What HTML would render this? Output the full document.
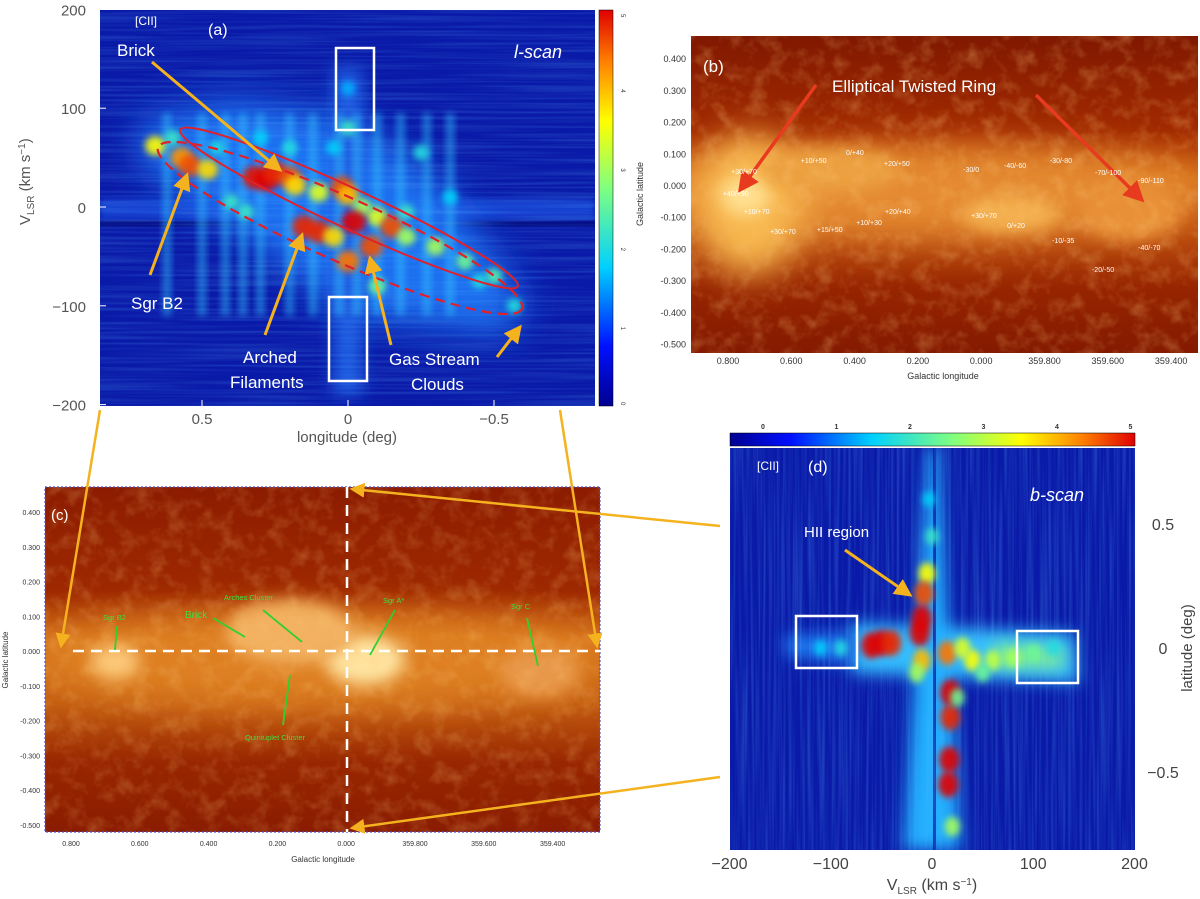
<!DOCTYPE html>
<html><head><meta charset="utf-8">
<style>
body{margin:0;background:#fff;width:1200px;height:899px;overflow:hidden;font-family:"Liberation Sans",sans-serif}
svg{position:absolute;left:0;top:0}
</style></head>
<body>
<svg id="fig" width="1200" height="899" viewBox="0 0 1200 899">
<defs>
<filter id="bl" x="-50%" y="-50%" width="200%" height="200%"><feGaussianBlur stdDeviation="3.5"/></filter>
<filter id="bl2" x="-50%" y="-50%" width="200%" height="200%"><feGaussianBlur stdDeviation="8"/></filter>
<filter id="bl3" x="-50%" y="-50%" width="200%" height="200%"><feGaussianBlur stdDeviation="18"/></filter>
<filter id="tH" x="0" y="0" width="100%" height="100%"><feTurbulence type="fractalNoise" baseFrequency="0.006 0.35" numOctaves="2" seed="3"/><feColorMatrix type="matrix" values="0 0 0 0 0.1  0 0 0 0 0.45  0 0 0 0 1  1.6 0 0 0 -0.62"/></filter>
<filter id="tV" x="0" y="0" width="100%" height="100%"><feTurbulence type="fractalNoise" baseFrequency="0.35 0.006" numOctaves="2" seed="5"/><feColorMatrix type="matrix" values="0 0 0 0 0.1  0 0 0 0 0.45  0 0 0 0 1  1.6 0 0 0 -0.62"/></filter>
<filter id="tO" x="0" y="0" width="100%" height="100%"><feTurbulence type="fractalNoise" baseFrequency="0.06" numOctaves="3" seed="7"/><feColorMatrix type="matrix" values="0 0 0 0 1  0 0 0 0 0.6  0 0 0 0 0.2  1.8 0 0 0 -0.8"/></filter>
<linearGradient id="jetv" x1="0" y1="1" x2="0" y2="0">
<stop offset="0" stop-color="#00008f"/><stop offset="0.15" stop-color="#0010ff"/><stop offset="0.35" stop-color="#00d0ff"/><stop offset="0.55" stop-color="#80ff80"/><stop offset="0.72" stop-color="#ffff00"/><stop offset="0.87" stop-color="#ff8000"/><stop offset="1" stop-color="#e00000"/></linearGradient>
<linearGradient id="jeth" x1="0" y1="0" x2="1" y2="0">
<stop offset="0" stop-color="#00008f"/><stop offset="0.15" stop-color="#0010ff"/><stop offset="0.35" stop-color="#00d0ff"/><stop offset="0.55" stop-color="#80ff80"/><stop offset="0.72" stop-color="#ffff00"/><stop offset="0.87" stop-color="#ff8000"/><stop offset="1" stop-color="#e00000"/></linearGradient>
<linearGradient id="galb" x1="0" y1="0" x2="0" y2="1">
<stop offset="0" stop-color="#801800"/><stop offset="0.3" stop-color="#a22a00"/><stop offset="0.45" stop-color="#d46a14"/><stop offset="0.6" stop-color="#c05210"/><stop offset="0.8" stop-color="#962400"/><stop offset="1" stop-color="#841a00"/></linearGradient>
<linearGradient id="galc" x1="0" y1="0" x2="0" y2="1">
<stop offset="0" stop-color="#8c1c00"/><stop offset="0.3" stop-color="#9e2800"/><stop offset="0.45" stop-color="#d6741a"/><stop offset="0.62" stop-color="#c45e12"/><stop offset="0.8" stop-color="#982600"/><stop offset="1" stop-color="#8a1c00"/></linearGradient>
<marker id="ay" markerWidth="6" markerHeight="6" refX="5" refY="3" orient="auto"><path d="M0,0 L6,3 L0,6 Z" fill="#f5b21f"/></marker>
<marker id="ar" markerWidth="6" markerHeight="6" refX="5" refY="3" orient="auto"><path d="M0,0 L6,3 L0,6 Z" fill="#e83a1e"/></marker>
<clipPath id="ca"><rect x="100" y="10" width="495" height="396"/></clipPath>
<clipPath id="cd"><rect x="730" y="448" width="405" height="402"/></clipPath>
<clipPath id="cb"><rect x="691" y="36" width="507" height="317"/></clipPath>
<clipPath id="cc"><rect x="45" y="487" width="555" height="345"/></clipPath>
</defs>

<!-- Panel a -->
<g>
<rect x="100" y="10" width="495" height="396" fill="#0a1aa8"/>
<g id="aStripes" clip-path="url(#ca)"></g>
<rect x="100" y="10" width="495" height="396" filter="url(#tH)" opacity="0.3"/>
<g id="aMarks" clip-path="url(#ca)"></g>
<rect x="599" y="10" width="14" height="396" fill="url(#jetv)" stroke="#000" stroke-width="0.5"/>
<g id="aAxes"></g>
<text x="135" y="25" fill="#fff" font-size="12">[CII]</text>
<text x="208" y="35" fill="#fff" font-size="16">(a)</text>
<text x="117" y="56" fill="#fff" font-size="17">Brick</text>
<text x="514" y="58" fill="#fff" font-size="18" font-style="italic">l-scan</text>
<text x="131" y="309" fill="#fff" font-size="17">Sgr B2</text>
<text x="243" y="363" fill="#fff" font-size="17">Arched</text>
<text x="230" y="388" fill="#fff" font-size="17">Filaments</text>
<text x="389" y="365" fill="#fff" font-size="17">Gas Stream</text>
<text x="411" y="390" fill="#fff" font-size="17">Clouds</text>
<rect x="336" y="48" width="38" height="82" fill="none" stroke="#fff" stroke-width="2.5"/>
<rect x="329" y="297" width="38" height="84" fill="none" stroke="#fff" stroke-width="2.5"/>
<ellipse cx="349" cy="208" rx="186" ry="20" transform="rotate(24.9 349 208)" fill="none" stroke="#e0202a" stroke-width="2"/>
<ellipse cx="340" cy="228" rx="199" ry="32" transform="rotate(24 340 228)" fill="none" stroke="#e0202a" stroke-width="2.2" stroke-dasharray="10,6"/>
<g stroke="#f5b21f" stroke-width="3" fill="none" marker-end="url(#ay)">
<line x1="152" y1="62" x2="280" y2="170"/>
<line x1="150" y1="275" x2="187" y2="175"/>
<line x1="265" y1="335" x2="302" y2="235"/>
<line x1="391" y1="345" x2="370" y2="258"/>
<line x1="497" y1="357" x2="520" y2="327"/>
</g>
<text x="15" y="210" fill="#555" font-size="15" transform="rotate(-90 30 210)">V<tspan font-size="10" dy="4">LSR</tspan><tspan dy="-4"> (km s</tspan><tspan font-size="10" dy="-5">−1</tspan><tspan dy="5">)</tspan></text>
<text x="347" y="442" fill="#555" font-size="15" text-anchor="middle">longitude (deg)</text>
</g>

<!-- Panel b -->
<g>
<rect x="691" y="36" width="507" height="317" fill="url(#galb)"/>
<g id="bMarks" clip-path="url(#cb)"></g>
<rect x="691" y="36" width="507" height="317" filter="url(#tO)" opacity="0.35"/>
<g id="bAxes"></g>
<text x="703" y="72" fill="#fff" font-size="17">(b)</text>
<text x="832" y="92" fill="#fff" font-size="17">Elliptical Twisted Ring</text>
<g stroke="#e83a1e" stroke-width="3.5" marker-end="url(#ar)">
<line x1="816" y1="85" x2="740" y2="190"/>
<line x1="1036" y1="95" x2="1142" y2="200"/>
</g>
<g id="bVel" fill="#fff" font-size="7"></g>
<text x="943" y="379" fill="#333" font-size="9" text-anchor="middle">Galactic longitude</text>
<text x="643" y="194" fill="#333" font-size="9" text-anchor="middle" transform="rotate(-90 643 194)">Galactic latitude</text>
</g>

<!-- Panel c -->
<g>
<rect x="45" y="487" width="555" height="345" fill="url(#galc)"/>
<g id="cMarks" clip-path="url(#cc)"></g>
<rect x="45" y="487" width="555" height="345" filter="url(#tO)" opacity="0.3"/>
<rect x="45" y="487" width="555" height="345" fill="none" stroke="#5050d0" stroke-width="1.2" stroke-dasharray="2,2"/>
<g id="cAxes"></g>
<line x1="73" y1="651" x2="600" y2="651" stroke="#fff" stroke-width="2.5" stroke-dasharray="11,7"/>
<line x1="347" y1="487" x2="347" y2="832" stroke="#fff" stroke-width="2.5" stroke-dasharray="11,7"/>
<text x="51" y="520" fill="#fff" font-size="15">(c)</text>
<g fill="#40e040" font-size="7.5">
<text x="103" y="620">Sgr B2</text>
<text x="185" y="618" font-size="10">Brick</text>
<text x="224" y="600">Arches Cluster</text>
<text x="383" y="603">Sgr A*</text>
<text x="511" y="609">Sgr C</text>
<text x="245" y="740">Quintuplet Cluster</text>
</g>
<g stroke="#30d030" stroke-width="1.8">
<line x1="117" y1="626" x2="115" y2="650"/><line x1="263" y1="610" x2="302" y2="642"/><line x1="213" y1="618" x2="245" y2="637"/>
<line x1="395" y1="610" x2="370" y2="655"/><line x1="527" y1="618" x2="538" y2="666"/><line x1="283" y1="725" x2="290" y2="675"/>
</g>
<text x="323" y="862" fill="#333" font-size="8" text-anchor="middle">Galactic longitude</text>
<text x="8" y="660" fill="#333" font-size="8" text-anchor="middle" transform="rotate(-90 8 660)">Galactic latitude</text>
</g>

<!-- Panel d -->
<g>
<rect x="730" y="448" width="405" height="402" fill="#0a1aa8"/>
<g id="dStripes" clip-path="url(#cd)"></g>
<rect x="730" y="448" width="405" height="402" filter="url(#tV)" opacity="0.35"/>
<g id="dMarks" clip-path="url(#cd)"></g>
<rect x="730" y="433" width="405" height="13" fill="url(#jeth)" stroke="#000" stroke-width="0.5"/>
<g id="dAxes"></g>
<text x="757" y="470" fill="#fff" font-size="12">[CII]</text>
<text x="808" y="472" fill="#fff" font-size="16">(d)</text>
<text x="1030" y="501" fill="#fff" font-size="18" font-style="italic">b-scan</text>
<text x="804" y="537" fill="#fff" font-size="15">HII region</text>
<line x1="845" y1="550" x2="910" y2="595" stroke="#f5b21f" stroke-width="3" marker-end="url(#ay)"/>
<rect x="796" y="616" width="61" height="52" fill="none" stroke="#fff" stroke-width="2.5"/>
<rect x="1017" y="631" width="61" height="52" fill="none" stroke="#fff" stroke-width="2.5"/>
<text x="932" y="890" fill="#444" font-size="16" text-anchor="middle">V<tspan font-size="10" dy="4">LSR</tspan><tspan dy="-4"> (km s</tspan><tspan font-size="10" dy="-5">−1</tspan><tspan dy="5">)</tspan></text>
<text x="1192" y="648" fill="#444" font-size="15" text-anchor="middle" transform="rotate(-90 1192 648)">latitude (deg)</text>
</g>

<!-- connecting arrows -->
<g stroke="#f5b21f" stroke-width="2.5" marker-end="url(#ay)">
<line x1="100" y1="410" x2="61" y2="646"/>
<line x1="560" y1="410" x2="597" y2="646"/>
<line x1="720" y1="526" x2="352" y2="489"/>
<line x1="720" y1="777" x2="352" y2="828"/>
</g>
</svg>
<script>
// ---------- data ----------
const aYTicks=[200,100,0,-100,-200];
const aXTicks=[0.5,0,-0.5];
const aXTickLabels=["0.5","0","−0.5"];
const aCbTicks=[0,1,2,3,4,5];
// panel (a) emission clumps: longitude (deg), velocity (km/s), intensity (K)
const aL=[0.66,0.57,0.54,0.48,0.32,0.28,0.25,0.20,0.18,0.10,0.02,0.00,-0.05,-0.10,-0.15,-0.20,0.15,0.10,0.05,-0.02,-0.08,0.00,-0.30,-0.40,-0.50,-0.57,0.40,0.35,0.00,-0.25,0.20,0.60,-0.10,0.05,0.00,-0.35,0.45,0.30,-0.20,-0.45];
const aV=[62,50,42,38,30,28,35,30,22,15,20,12,0,-10,-20,-30,-20,-25,-30,-15,-40,-55,-40,-55,-70,-100,5,-5,80,55,60,70,-80,60,120,10,60,70,-5,-75];
const aI=[3.6,4.2,4.6,3.8,4.9,5,4.8,4.6,3.8,3.4,4.6,4,3,3.4,4.6,3,4.8,4.8,3.8,5,4.6,4.4,3,2.6,2.4,2,2.2,2.2,2.2,2,2,2.2,2.6,1.8,1.6,1.8,2,1.8,2.2,2];
// longitudes of faint vertical streaks
const aStreakL=[0.62,0.5,0.42,0.36,0.3,0.2,0.12,0.03,-0.03,-0.1,-0.18,-0.27,-0.35];
const bXLabels=["0.800","0.600","0.400","0.200","0.000","359.800","359.600","359.400"];
const bYTicks=[0.4,0.3,0.2,0.1,0,-0.1,-0.2,-0.3,-0.4,-0.5];
const bYLabels=["0.400","0.300","0.200","0.100","0.000","-0.100","-0.200","-0.300","-0.400","-0.500"];
const bVelL=[0.79,0.816,0.75,0.57,0.427,0.307,0.057,-0.072,-0.217,-0.36,-0.496,0.667,0.519,0.395,0.304,0.032,-0.082,-0.224,-0.496,-0.35];
const bVelB=[0.038,-0.032,-0.088,0.073,0.098,0.063,0.044,0.057,0.073,0.035,0.009,-0.151,-0.145,-0.123,-0.088,-0.101,-0.132,-0.18,-0.202,-0.271];
const bVelTxt=["+30/+70","+40/+90","+10/+70","+10/+50","0/+40","+20/+50","-30/0","-40/-60","-30/-80","-70/-100","-90/-110","+30/+70","+15/+50","+10/+30","+20/+40","+30/+70","0/+20","-10/-35","-40/-70","-20/-50"];
const dXTicks=[-200,-100,0,100,200];
const dXLabels=["−200","−100","0","100","200"];
const dYTicks=[0.5,0,-0.5];
const dYLabels=["0.5","0","−0.5"];
// panel (d) emission clumps: velocity (km/s), latitude (deg), intensity
const dV=[-5,-8,-10,-12,-60,-50,-40,-10,15,18,18,17,16,20,40,60,80,100,120,-90,-110,0,-3,25,50,-15,30];
const dB=[0.30,0.22,0.12,0.06,0.01,0.02,0.02,-0.05,-0.02,-0.18,-0.28,-0.45,-0.55,-0.72,-0.05,-0.05,-0.04,-0.02,0.0,0.0,0.0,0.45,0.60,-0.20,-0.10,-0.1,0.0];
const dI=[3.6,4.6,5,5,5,5,4.8,4,4.4,5,4.8,5,5,3,3.6,3.2,3,2.6,2,2,1.8,2.2,1.8,2.6,2.6,3,3.4];

// ---------- scales ----------
const ax=l=>348-(l*292);
const ay=v=>207-v*0.988;
const bx=l=>728+(0.8-l)*316.5;
const by=b=>186-b*317;
const cy=b=>651-b*(651-512)/0.4;
const dx=v=>932+v*1.0125;
const dy=b=>648-b*248;
function jet(i){const t=Math.max(0,Math.min(1,i/5));
 const st=[[0,[0,0,143]],[0.15,[0,16,255]],[0.35,[0,208,255]],[0.55,[128,255,128]],[0.72,[255,255,0]],[0.87,[255,128,0]],[1,[224,0,0]]];
 for(let k=1;k<st.length;k++){if(t<=st[k][0]){const a=st[k-1],b=st[k],f=(t-a[0])/(b[0]-a[0]);
 return `rgb(${a[1].map((c,j)=>Math.round(c+(b[1][j]-c)*f)).join(',')})`;}}return 'rgb(224,0,0)';}
const NS="http://www.w3.org/2000/svg";
function mk(tag,attrs,parent){const e=document.createElementNS(NS,tag);for(const k in attrs)e.setAttribute(k,attrs[k]);parent.appendChild(e);return e;}
const G=id=>document.getElementById(id);

// ---------- panel a ----------
let sa=G('aStripes');
mk('rect',{x:100,y:ay(8),width:495,height:20,fill:'#1840d0',filter:'url(#bl)'},sa);
mk('rect',{x:100,y:ay(-14),width:495,height:6,fill:'#06108a'},sa);
mk('polygon',{points:`${ax(0.72)},${ay(85)} ${ax(0.4)},${ay(110)} ${ax(0)},${ay(90)} ${ax(-0.3)},${ay(30)} ${ax(-0.6)},${ay(-90)} ${ax(-0.55)},${ay(-130)} ${ax(0)},${ay(-110)} ${ax(0.3)},${ay(-40)} ${ax(0.7)},${ay(40)}`,fill:'#1a70f0',filter:'url(#bl3)'},sa);
mk('rect',{x:ax(0.05),y:ay(140),width:ax(-0.05)-ax(0.05),height:ay(-190)-ay(140),fill:'#1c5ae0',filter:'url(#bl2)'},sa);
aStreakL.forEach(l=>{const r=mk('rect',{x:ax(l)-4,y:ay(95),width:8,height:ay(-110)-ay(95),fill:'#30c8ff',opacity:0.5,filter:'url(#bl)'},sa);
 });
let ma=G('aMarks');
for(let i=0;i<aL.length;i++){
 const e=mk('ellipse',{cx:ax(aL[i]),cy:ay(aV[i]),rx:5+aI[i]*1.4,ry:5+aI[i]*1.3,fill:jet(aI[i]),filter:'url(#bl)',opacity:0.9},ma);
 
 
}
let aa=G('aAxes');
aYTicks.forEach(v=>{const t=mk('text',{x:86,y:ay(v)+6,'font-size':15,fill:'#555','text-anchor':'end'},aa);t.textContent=v<0?'−'+(-v):v;
 
 mk('line',{x1:100,y1:ay(v),x2:106,y2:ay(v),stroke:'#fff'},aa);});
aXTicks.forEach((l,i)=>{const t=mk('text',{x:ax(l),y:424,'font-size':15,fill:'#555','text-anchor':'middle'},aa);t.textContent=aXTickLabels[i];
 
 mk('line',{x1:ax(l),y1:406,x2:ax(l),y2:400,stroke:'#fff'},aa);});
aCbTicks.forEach(c=>{const y=Math.max(14,Math.min(402,406-c*79.2));const t=mk('text',{x:621,y:y,'font-size':6,fill:'#333',transform:`rotate(90 621 ${y})`},aa);t.textContent=c;
 });

// ---------- panel b ----------
let mb=G('bMarks');
mk('ellipse',{cx:930,cy:by(-0.02),rx:280,ry:45,fill:'#e48a30',filter:'url(#bl3)'},mb);
mk('ellipse',{cx:750,cy:by(-0.06),rx:55,ry:70,fill:'#f8b850',filter:'url(#bl3)'},mb);
mk('ellipse',{cx:745,cy:by(-0.03),rx:25,ry:20,fill:'#ffe090',filter:'url(#bl2)'},mb);
mk('ellipse',{cx:1130,cy:by(-0.08),rx:50,ry:30,fill:'#e89038',filter:'url(#bl2)'},mb);
mk('ellipse',{cx:830,cy:by(0.05),rx:70,ry:22,fill:'#eca040',filter:'url(#bl2)'},mb);
mk('ellipse',{cx:1010,cy:by(-0.09),rx:50,ry:18,fill:'#f4b050',filter:'url(#bl2)'},mb);
let ba=G('bAxes');
bXLabels.forEach((s,i)=>{const l=0.8-i*0.2;const t=mk('text',{x:bx(l),y:364,'font-size':9,fill:'#333','text-anchor':'middle'},ba);t.textContent=s;
 });
bYTicks.forEach((b,i)=>{const t=mk('text',{x:686,y:by(b)+3,'font-size':9,fill:'#333','text-anchor':'end'},ba);t.textContent=bYLabels[i];
 });
let bv=G('bVel');
bVelTxt.forEach((s,i)=>{const t=mk('text',{x:bx(bVelL[i]),y:by(bVelB[i])},bv);t.textContent=s;
 });

// ---------- panel c ----------
let mc=G('cMarks');
mk('ellipse',{cx:320,cy:660,rx:290,ry:45,fill:'#de8024',filter:'url(#bl3)'},mc);
mk('ellipse',{cx:365,cy:660,rx:40,ry:25,fill:'#ffe4a0',filter:'url(#bl2)'},mc);
mk('ellipse',{cx:290,cy:632,rx:65,ry:32,fill:'#f2b060',filter:'url(#bl2)'},mc);
mk('ellipse',{cx:115,cy:662,rx:25,ry:18,fill:'#fcc878',filter:'url(#bl2)'},mc);
mk('ellipse',{cx:540,cy:672,rx:40,ry:25,fill:'#e89848',filter:'url(#bl2)'},mc);
let ca=G('cAxes');
bXLabels.forEach((s,i)=>{const x=71+i*68.8;const t=mk('text',{x:x,y:846,'font-size':7,fill:'#333','text-anchor':'middle'},ca);t.textContent=s;
 });
bYTicks.forEach((b,i)=>{const t=mk('text',{x:40,y:cy(b)+3,'font-size':7,fill:'#333','text-anchor':'end'},ca);t.textContent=bYLabels[i];
 });

// ---------- panel d ----------
let sd=G('dStripes');
mk('polygon',{points:`${dx(-80)},${dy(0.1)} ${dx(140)},${dy(0.06)} ${dx(145)},${dy(-0.14)} ${dx(-80)},${dy(-0.1)}`,fill:'#30c0ff',filter:'url(#bl2)'},sd);
mk('polygon',{points:`${dx(60)},${dy(0.02)} ${dx(130)},${dy(0.0)} ${dx(130)},${dy(-0.08)} ${dx(60)},${dy(-0.08)}`,fill:'#a0ff60',opacity:0.7,filter:'url(#bl2)'},sd);
mk('polygon',{points:`${dx(-145)},${dy(0.05)} ${dx(-80)},${dy(0.06)} ${dx(-80)},${dy(-0.06)} ${dx(-145)},${dy(-0.03)}`,fill:'#1a78f0',filter:'url(#bl2)'},sd);
mk('polygon',{points:`${dx(-4)},448 ${dx(6)},448 ${dx(28)},850 ${dx(-28)},850`,fill:'#20b0ff',filter:'url(#bl2)'},sd);
mk('rect',{x:dx(1),y:448,width:3,height:402,fill:'#0a1aa8',opacity:0.8},sd);
let md=G('dMarks');
for(let i=0;i<dV.length;i++){
 const e=mk('ellipse',{cx:dx(dV[i]),cy:dy(dB[i]),rx:4+dI[i]*1.2,ry:5+dI[i]*1.6,fill:jet(dI[i]),filter:'url(#bl)',opacity:0.9},md);
 
 
}
let da=G('dAxes');
dXTicks.forEach((v,i)=>{const t=mk('text',{x:dx(v),y:869,'font-size':16,fill:'#444','text-anchor':'middle'},da);t.textContent=dXLabels[i];
 });
dYTicks.forEach((b,i)=>{const t=mk('text',{x:1163,y:dy(b)+6,'font-size':16,fill:'#444','text-anchor':'middle'},da);t.textContent=dYLabels[i];
 });
aCbTicks.forEach(c=>{const t=mk('text',{x:730+33+c*73.5,y:429,'font-size':7,fill:'#333','text-anchor':'middle','font-weight':'bold'},da);t.textContent=c;
 });
</script>
</body></html>
